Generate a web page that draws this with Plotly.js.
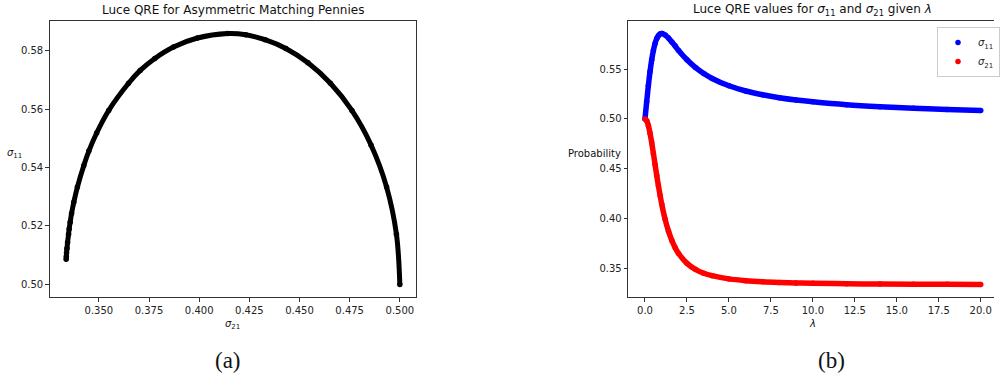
<!DOCTYPE html>
<html>
<head>
<meta charset="utf-8">
<script src="https://cdn.plot.ly/plotly-3.0.1.min.js"></script>
<style>
  html, body { margin: 0; padding: 0; background: #ffffff; }
  #chart { width: 1000px; height: 378px; }
</style>
</head>
<body>
<div id="chart"></div>
<script>
// Logit (Luce) quantal response equilibrium path for asymmetric matching pennies
const lambdaVals = [0, 0.1, 0.2, 0.3, 0.4, 0.5, 0.6, 0.7, 0.8, 0.9, 1.0, 1.2, 1.4, 1.6, 1.8, 2.0,
                    2.5, 3.0, 3.5, 4.0, 5, 6, 7, 8, 9, 10, 12, 14, 16, 18, 20];
const sigma11 = [0.5000, 0.5172, 0.5333, 0.5476, 0.5595, 0.5688, 0.5758, 0.5807, 0.5837, 0.5854,
                 0.5858, 0.5843, 0.5812, 0.5773, 0.5732, 0.5688, 0.5595, 0.5518, 0.5456, 0.5407,
                 0.5333, 0.5281, 0.5243, 0.5213, 0.5190, 0.5172, 0.5143, 0.5123, 0.5108, 0.5096, 0.5086];
const sigma21 = [0.5000, 0.4983, 0.4934, 0.4857, 0.4761, 0.4654, 0.4542, 0.4432, 0.4328, 0.4232,
                 0.4142, 0.3991, 0.3872, 0.3779, 0.3706, 0.3648, 0.3549, 0.3489, 0.3450, 0.3425,
                 0.3393, 0.3375, 0.3364, 0.3357, 0.3352, 0.3349, 0.3344, 0.3341, 0.3339, 0.3338, 0.3337];

const leftTitle = 'Luce QRE for Asymmetric Matching Pennies';
const rightTitle = 'Luce QRE values for <i>σ</i><sub>11</sub> and <i>σ</i><sub>21</sub> given <i>λ</i>';
const leftXLabel = '<i>σ</i><sub>21</sub>';
const leftYLabel = '<i>σ</i><sub>11</sub>';
const rightXLabel = '<i>λ</i>';
const rightYLabel = 'Probability';
const seriesNames = ['<i>σ</i><sub>11</sub>', '<i>σ</i><sub>21</sub>'];
const panelLabels = ['(a)', '(b)'];

const W = 1000, H = 378;
const fx = v => v / W;          // pixel column -> paper x
const fy = v => 1 - v / H;      // pixel row -> paper y

const FONT = 'DejaVu Sans, sans-serif';
const BLUE = '#0000ff', RED = '#ff0000', BLACK = '#000000';

const traces = [
  { x: sigma21, y: sigma11, xaxis: 'x', yaxis: 'y', mode: 'lines+markers',
    line: { color: BLACK, width: 5, shape: 'spline' },
    marker: { color: BLACK, size: 5.5 }, showlegend: false, hoverinfo: 'skip' },
  { x: lambdaVals, y: sigma11, xaxis: 'x2', yaxis: 'y2', mode: 'lines',
    line: { color: BLUE, width: 5.5, shape: 'spline' }, showlegend: false, hoverinfo: 'skip' },
  { x: lambdaVals, y: sigma11, xaxis: 'x2', yaxis: 'y2', mode: 'markers',
    marker: { color: BLUE, size: 5.5 }, name: seriesNames[0] },
  { x: lambdaVals, y: sigma21, xaxis: 'x2', yaxis: 'y2', mode: 'lines',
    line: { color: RED, width: 5.5, shape: 'spline' }, showlegend: false, hoverinfo: 'skip' },
  { x: lambdaVals, y: sigma21, xaxis: 'x2', yaxis: 'y2', mode: 'markers',
    marker: { color: RED, size: 5.5 }, name: seriesNames[1] }
];

const axisCommon = {
  showgrid: false, zeroline: false, showline: true, linecolor: '#333333', linewidth: 1,
  ticks: 'outside', ticklen: 3.5, tickwidth: 1, tickcolor: '#333333',
  tickfont: { family: FONT, size: 10, color: '#222222' }
};

const yDomain = [fy(297), fy(21)];

const layout = {
  width: W, height: H,
  margin: { l: 0, r: 0, t: 0, b: 0 },
  paper_bgcolor: '#ffffff', plot_bgcolor: '#ffffff',
  font: { family: FONT, size: 10, color: '#222222' },
  xaxis: Object.assign({}, axisCommon, {
    domain: [fx(50), fx(419)], range: [0.3255, 0.5083], anchor: 'y',
    tick0: 0.35, dtick: 0.025, tickformat: '.3f', mirror: true }),
  yaxis: Object.assign({}, axisCommon, {
    domain: yDomain, range: [0.4957, 0.5901], anchor: 'x',
    tick0: 0.5, dtick: 0.02, tickformat: '.2f', mirror: true }),
  xaxis2: Object.assign({}, axisCommon, {
    domain: [fx(632), 1], range: [-1, 20.79], anchor: 'y2',
    tick0: 0, dtick: 2.5, tickformat: '.1f', mirror: true }),
  yaxis2: Object.assign({}, axisCommon, {
    domain: yDomain, range: [0.3211, 0.5984], anchor: 'x2',
    tick0: 0.35, dtick: 0.05, tickformat: '.2f', mirror: false }),
  legend: {
    x: fx(943), y: fy(27), xanchor: 'left', yanchor: 'top',
    bgcolor: 'rgba(255,255,255,0.8)', bordercolor: '#cccccc', borderwidth: 1,
    font: { family: FONT, size: 10, color: '#222222' },
    itemwidth: 30, tracegroupgap: 0
  },
  annotations: [
    { text: leftTitle, x: fx(234.5), y: fy(10), xref: 'paper', yref: 'paper',
      xanchor: 'center', yanchor: 'middle', showarrow: false,
      font: { family: FONT, size: 12, color: '#111111' } },
    { text: rightTitle, x: fx(817), y: fy(10), xref: 'paper', yref: 'paper',
      xanchor: 'center', yanchor: 'middle', showarrow: false,
      font: { family: FONT, size: 12, color: '#111111' } },
    { text: leftXLabel, x: fx(234), y: fy(324), xref: 'paper', yref: 'paper',
      xanchor: 'center', yanchor: 'middle', showarrow: false,
      font: { family: FONT, size: 10, color: '#111111' } },
    { text: leftYLabel, x: fx(15), y: fy(153), xref: 'paper', yref: 'paper',
      xanchor: 'center', yanchor: 'middle', showarrow: false,
      font: { family: FONT, size: 10, color: '#111111' } },
    { text: rightXLabel, x: fx(817), y: fy(323), xref: 'paper', yref: 'paper',
      xanchor: 'center', yanchor: 'middle', showarrow: false,
      font: { family: FONT, size: 10, color: '#111111' } },
    { text: rightYLabel, x: fx(598), y: fy(153), xref: 'paper', yref: 'paper',
      xanchor: 'center', yanchor: 'middle', showarrow: false,
      font: { family: FONT, size: 10, color: '#111111' } },
    { text: panelLabels[0], x: fx(229), y: fy(360), xref: 'paper', yref: 'paper',
      xanchor: 'center', yanchor: 'middle', showarrow: false,
      font: { family: 'Liberation Serif, serif', size: 23, color: '#111111' } },
    { text: panelLabels[1], x: fx(837), y: fy(360), xref: 'paper', yref: 'paper',
      xanchor: 'center', yanchor: 'middle', showarrow: false,
      font: { family: 'Liberation Serif, serif', size: 23, color: '#111111' } }
  ]
};

Plotly.newPlot('chart', traces, layout, { displayModeBar: false, staticPlot: true });
</script>
</body>
</html>
